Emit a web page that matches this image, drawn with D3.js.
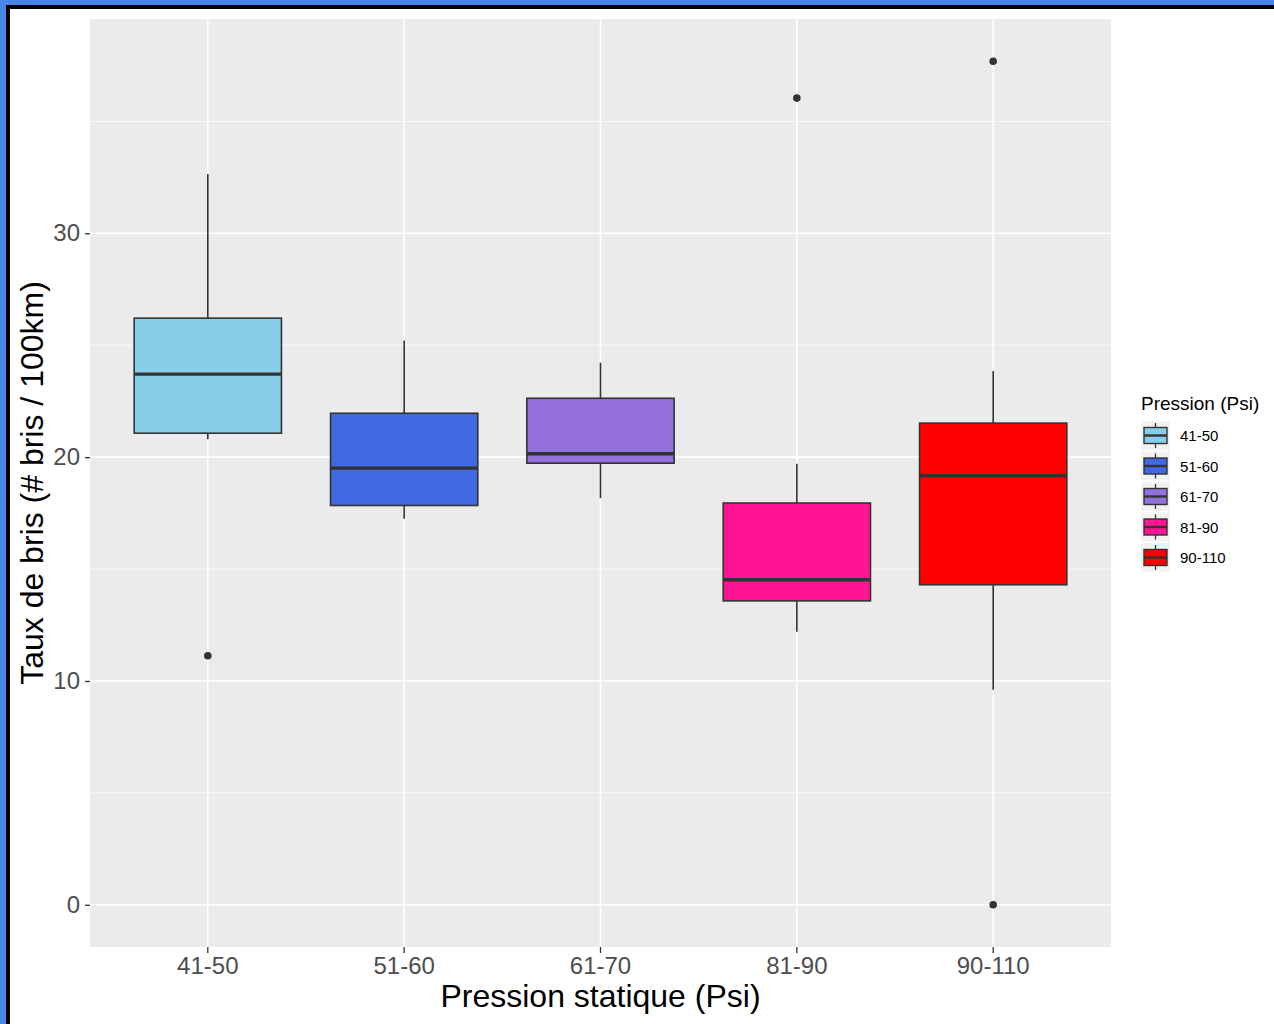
<!DOCTYPE html>
<html>
<head>
<meta charset="utf-8">
<script src="https://cdn.jsdelivr.net/npm/d3@7"></script>
<style>
  body { margin: 0; background: white; }
  svg { display: block; font-family: 'Liberation Sans', Arial, sans-serif; }
</style>
</head>
<body>
<svg id="chart"></svg>
<script>
// categories + five-number summaries
const categories = ['41-50', '51-60', '61-70', '81-90', '90-110']
const colors = ['#87CEEB', '#4169E1', '#9370DB', '#FF1493', '#FF0000']
const lowerWhisker = [20.8, 17.25, 18.17, 12.2, 9.61]
const q1 = [21.07, 17.84, 19.73, 13.58, 14.3]
const median = [23.71, 19.51, 20.15, 14.52, 19.17]
const q3 = [26.21, 21.96, 22.63, 17.95, 21.52]
const upperWhisker = [32.65, 25.21, 24.22, 19.7, 23.85]
const outliers = [[11.13], [], [], [36.04], [37.69, 0]]
const yTicks = [0, 10, 20, 30]
const yMinor = [5, 15, 25, 35]

const W = 1274, H = 1024
const svg = d3.select('#chart').attr('width', W).attr('height', H)

// frame on the top / left edge
svg.append('rect').attr('x', 0).attr('y', 0).attr('width', W).attr('height', 5).attr('fill', '#4A86E8')
svg.append('rect').attr('x', 0).attr('y', 0).attr('width', 6).attr('height', H).attr('fill', '#4A86E8')
svg.append('rect').attr('x', 6).attr('y', 5).attr('width', W - 6).attr('height', 4).attr('fill', 'black')
svg.append('rect').attr('x', 6).attr('y', 5).attr('width', 4).attr('height', H - 5).attr('fill', 'black')

const panel = { left: 90, right: 1111, top: 19, bottom: 947 }

// ggplot-like expansion: 5% of data range
const allVals = upperWhisker.concat(lowerWhisker, outliers.flat())
const lo = d3.min(allVals), hi = d3.max(allVals)
const pad = (hi - lo) * 0.05
const yScale = d3.scaleLinear()
  .domain([lo - pad, hi + pad])
  .range([panel.bottom, panel.top])

const xScale = d3.scaleBand()
  .domain(categories)
  .range([panel.left, panel.right])
  .paddingOuter(0.1)
  .paddingInner(0)
const step = xScale.bandwidth()
const cx = d => xScale(d) + step / 2
const boxW = step * 0.75

// panel background + grid
svg.append('rect')
  .attr('x', panel.left).attr('y', panel.top)
  .attr('width', panel.right - panel.left).attr('height', panel.bottom - panel.top)
  .attr('fill', '#EBEBEB')

svg.append('g').selectAll('line').data(yMinor).enter().append('line')
  .attr('x1', panel.left).attr('x2', panel.right)
  .attr('y1', d => yScale(d)).attr('y2', d => yScale(d))
  .attr('stroke', 'white').attr('stroke-width', 0.8)

svg.append('g').selectAll('line').data(yTicks).enter().append('line')
  .attr('x1', panel.left).attr('x2', panel.right)
  .attr('y1', d => yScale(d)).attr('y2', d => yScale(d))
  .attr('stroke', 'white').attr('stroke-width', 1.6)

svg.append('g').selectAll('line').data(categories).enter().append('line')
  .attr('x1', cx).attr('x2', cx)
  .attr('y1', panel.top).attr('y2', panel.bottom)
  .attr('stroke', 'white').attr('stroke-width', 1.6)

// axes
const yAxis = d3.axisLeft(yScale).tickValues(yTicks).tickSize(5).tickPadding(5)
const gy = svg.append('g').attr('transform', `translate(${panel.left},0)`).call(yAxis)
gy.select('.domain').remove()
gy.selectAll('line').attr('stroke', '#333333').attr('stroke-width', 1.3)
gy.selectAll('text').attr('fill', '#4D4D4D').style('font-size', '24px')
  .attr('font-family', "'Liberation Sans', Arial, sans-serif")

const xAxis = d3.axisBottom(xScale).tickSize(6).tickPadding(4)
const gx = svg.append('g').attr('transform', `translate(0,${panel.bottom})`).call(xAxis)
gx.select('.domain').remove()
gx.selectAll('line').attr('stroke', '#333333').attr('stroke-width', 1.3)
gx.selectAll('text').attr('fill', '#4D4D4D').style('font-size', '24px')
  .attr('font-family', "'Liberation Sans', Arial, sans-serif")

// boxes
const rows = categories.map((c, i) => ({
  cat: c, color: colors[i], lw: lowerWhisker[i], q1: q1[i], med: median[i], q3: q3[i], uw: upperWhisker[i], out: outliers[i]
}))

const boxes = svg.append('g').selectAll('g').data(rows).enter().append('g')

boxes.append('line')
  .attr('x1', d => cx(d.cat)).attr('x2', d => cx(d.cat))
  .attr('y1', d => yScale(d.q3)).attr('y2', d => yScale(d.uw))
  .attr('stroke', '#333333').attr('stroke-width', 1.6)
boxes.append('line')
  .attr('x1', d => cx(d.cat)).attr('x2', d => cx(d.cat))
  .attr('y1', d => yScale(d.q1)).attr('y2', d => yScale(d.lw))
  .attr('stroke', '#333333').attr('stroke-width', 1.6)
boxes.append('rect')
  .attr('x', d => cx(d.cat) - boxW / 2).attr('width', boxW)
  .attr('y', d => yScale(d.q3)).attr('height', d => yScale(d.q1) - yScale(d.q3))
  .attr('fill', d => d.color)
  .attr('stroke', '#333333').attr('stroke-width', 1.6)
boxes.append('line')
  .attr('x1', d => cx(d.cat) - boxW / 2).attr('x2', d => cx(d.cat) + boxW / 2)
  .attr('y1', d => yScale(d.med)).attr('y2', d => yScale(d.med))
  .attr('stroke', '#333333').attr('stroke-width', 3.4)
boxes.selectAll('circle').data(d => d.out.map(v => ({ cat: d.cat, v }))).enter().append('circle')
  .attr('cx', d => cx(d.cat)).attr('cy', d => yScale(d.v)).attr('r', 3.8)
  .attr('fill', '#333333')

// axis titles
svg.append('text')
  .attr('x', (panel.left + panel.right) / 2).attr('y', 1007)
  .attr('text-anchor', 'middle').attr('font-size', '32px').attr('fill', 'black')
  .text('Pression statique (Psi)')

svg.append('text')
  .attr('transform', `translate(43,${(panel.top + panel.bottom) / 2}) rotate(-90)`)
  .attr('text-anchor', 'middle').attr('font-size', '32px').attr('fill', 'black')
  .text('Taux de bris (# bris / 100km)')

// legend
const legend = svg.append('g').attr('transform', 'translate(1141,0)')
legend.append('text').attr('x', 0).attr('y', 410)
  .attr('font-size', '19px').attr('fill', 'black').text('Pression (Psi)')

const keyTop = 421, keyH = 30.5, keySize = 29
const keys = legend.selectAll('g.key').data(rows).enter().append('g')
  .attr('class', 'key')
  .attr('transform', (d, i) => `translate(0,${keyTop + i * keyH})`)
keys.append('rect').attr('width', keySize).attr('height', keySize).attr('fill', '#F2F2F2')
keys.append('line').attr('x1', keySize / 2).attr('x2', keySize / 2).attr('y1', 2).attr('y2', keySize - 2)
  .attr('stroke', '#333333').attr('stroke-width', 1.3)
keys.append('rect').attr('x', 3).attr('y', 6.5).attr('width', keySize - 6).attr('height', 16)
  .attr('fill', d => d.color).attr('stroke', '#333333').attr('stroke-width', 1.4)
keys.append('line').attr('x1', 3).attr('x2', keySize - 3).attr('y1', keySize / 2).attr('y2', keySize / 2)
  .attr('stroke', '#333333').attr('stroke-width', 2.4)
keys.append('text').attr('x', 39).attr('y', keySize / 2 + 5.5)
  .attr('font-size', '15px').attr('fill', 'black').text(d => d.cat)
</script>
</body>
</html>
